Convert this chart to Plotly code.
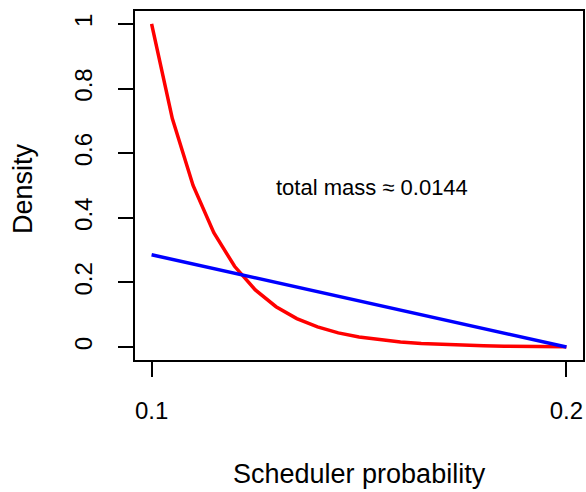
import plotly.graph_objects as go

# data
x_red = [0.100, 0.105, 0.110, 0.115, 0.120, 0.125, 0.130, 0.135, 0.140, 0.145, 0.150,
         0.155, 0.160, 0.165, 0.170, 0.175, 0.180, 0.185, 0.190, 0.195, 0.200]
y_red = [1.000, 0.707, 0.500, 0.354, 0.250, 0.177, 0.125, 0.088, 0.0625, 0.044, 0.031,
         0.022, 0.0156, 0.011, 0.0078, 0.0055, 0.0039, 0.0028, 0.0020, 0.0014, 0.0010]
x_blue = [0.100, 0.200]
y_blue = [0.2857, 0.0]
x_ticks = [0.1, 0.2]
x_ticklabels = ["0.1", "0.2"]
y_ticks = [0, 0.2, 0.4, 0.6, 0.8, 1]
y_ticklabels = ["0", "0.2", "0.4", "0.6", "0.8", "1"]
annotation_text = "total mass \u2248 0.0144"
annotation_pos = (0.1532, 0.494)

FONT = "Liberation Sans, Arial, Helvetica, sans-serif"

fig = go.Figure()
fig.add_trace(go.Scatter(x=x_red, y=y_red, mode="lines",
                         line=dict(color="#ff0000", width=3.5), showlegend=False))
fig.add_trace(go.Scatter(x=x_blue, y=y_blue, mode="lines",
                         line=dict(color="#0000ff", width=3.5), showlegend=False))

fig.add_annotation(x=annotation_pos[0], y=annotation_pos[1], xref="x", yref="y",
                   text=annotation_text, showarrow=False,
                   font=dict(family=FONT, size=22, color="black"))

# axis titles
fig.add_annotation(x=0.5, y=-0.3266, xref="paper", yref="paper",
                   text="Scheduler probability", showarrow=False,
                   xanchor="center", yanchor="middle",
                   font=dict(family=FONT, size=27, color="black"))
fig.add_annotation(x=-0.25, y=0.49, xref="paper", yref="paper",
                   text="Density", showarrow=False, textangle=-90,
                   xanchor="center", yanchor="middle",
                   font=dict(family=FONT, size=27, color="black"))

fig.update_xaxes(range=[0.096, 0.204], tickvals=x_ticks, ticktext=x_ticklabels,
                 showgrid=False, zeroline=False, showline=True, linecolor="black",
                 linewidth=1.5, mirror=True, ticks="outside", ticklen=15,
                 tickwidth=1.5, tickcolor="black", ticklabelstandoff=13,
                 automargin=False,
                 tickfont=dict(family=FONT, size=24, color="black"))
fig.update_yaxes(range=[-0.04, 1.04], tickvals=y_ticks, ticktext=y_ticklabels,
                 showgrid=False, zeroline=False, showline=True, linecolor="black",
                 linewidth=1.5, mirror=True, ticks="outside", ticklen=15,
                 tickwidth=1.5, tickcolor="black", tickangle=-90, ticklabelstandoff=17,
                 automargin=False,
                 tickfont=dict(family=FONT, size=24, color="black"))

fig.update_layout(width=586, height=492,
                  margin=dict(l=135, r=3, t=11, b=132, autoexpand=False),
                  plot_bgcolor="white", paper_bgcolor="white")

fig.write_html("out.html",
               config={"displayModeBar": False},
               post_script="document.body.style.margin='0';"
                           "document.body.style.overflow='hidden';")
